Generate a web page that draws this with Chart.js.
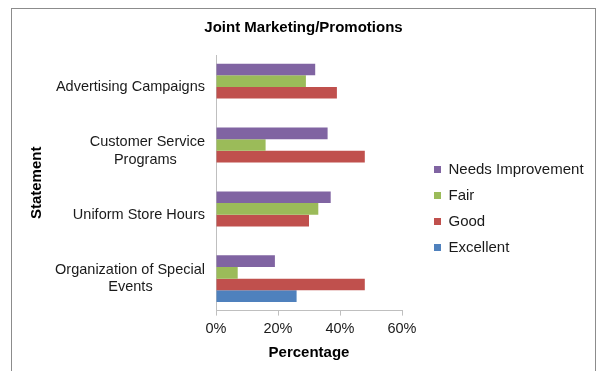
<!DOCTYPE html>
<html>
<head>
<meta charset="utf-8">
<script src="https://cdn.jsdelivr.net/npm/chart.js@4.4.1/dist/chart.umd.min.js"></script>
<style>
  html, body { margin: 0; padding: 0; background: #fff; }
  #frame {
    position: absolute; left: 11px; top: 8px;
    width: 583px; height: 380px;
    border: 1px solid #8c8c8c;
  }
  #wrap { position: absolute; left: 0; top: 0; width: 583px; height: 363px; }
</style>
</head>
<body>
<div id="frame">
  <div id="wrap"><canvas id="chart"></canvas></div>
</div>
<script>
const categories = [
  "Advertising Campaigns",
  ["Customer Service", "Programs"],
  "Uniform Store Hours",
  ["Organization of Special", "Events"]
];
const needsImprovement = [32, 36, 37, 19];
const fair = [29, 16, 33, 7];
const good = [39, 48, 30, 48];
const excellent = [0, 0, 0, 26];
const xTicks = [0, 20, 40, 60];

const font = "'Liberation Sans', Arial, sans-serif";
Chart.defaults.font.family = font;
Chart.defaults.color = "#1a1a1a";

const tickSize = 14.5;

// the plot box in canvas pixels, and where the legend sits
const plotLeft = 204, plotRight = 390;
const legendLeft = 411, legendDrop = 23;

// two-line labels: right-aligned block, lines centred inside it (pad with nbsp)
const measure = document.createElement("canvas").getContext("2d");
measure.font = tickSize + "px " + font;
function centreLines(label) {
  if (!Array.isArray(label)) return label;
  const widths = label.map(s => measure.measureText(s).width);
  const widest = Math.max(...widths);
  const sp = measure.measureText("\u00a0").width;
  return label.map((s, i) => s + "\u00a0".repeat(Math.round((widest - widths[i]) / 2 / sp)));
}

// fixed width for the right legend, then nudge it into place
const legendPlace = {
  id: "legendPlace",
  afterInit(chart) {
    const lg = chart.legend;
    const fit = lg.fit.bind(lg);
    lg.fit = function () {
      fit();
      this.width = chart.width - plotRight;
    };
  },
  afterLayout(chart) {
    const lg = chart.legend;
    const w = lg.right - lg.left;
    lg.left = legendLeft;
    lg.right = legendLeft + w;
    lg.top += legendDrop;
    lg.bottom += legendDrop;
  }
};

new Chart(document.getElementById("chart"), {
  type: "bar",
  data: {
    labels: categories,
    datasets: [
      { label: "Needs Improvement", data: needsImprovement, backgroundColor: "#8064A2" },
      { label: "Fair", data: fair, backgroundColor: "#9BBB59" },
      { label: "Good", data: good, backgroundColor: "#C0504D" },
      { label: "Excellent", data: excellent, backgroundColor: "#4F81BD" }
    ]
  },
  plugins: [legendPlace],
  options: {
    indexAxis: "y",
    responsive: true,
    maintainAspectRatio: false,
    animation: false,
    datasets: { bar: { categoryPercentage: 0.73, barPercentage: 1.0 } },
    layout: { padding: { left: 0, right: 0, top: 0, bottom: 10 } },
    plugins: {
      title: {
        display: true,
        text: "Joint Marketing/Promotions",
        font: { size: 15, weight: "bold" },
        color: "#000",
        padding: { top: 10, bottom: 18 }
      },
      legend: {
        position: "right",
        maxWidth: 300,
        labels: {
          boxWidth: 7,
          boxHeight: 7,
          padding: 11,
          font: { size: 15 },
          color: "#1a1a1a"
        }
      },
      tooltip: { enabled: false }
    },
    scales: {
      x: {
        min: 0,
        max: 60,
        afterBuildTicks: axis => { axis.ticks = xTicks.map(v => ({ value: v })); },
        ticks: { callback: v => v + "%", font: { size: tickSize }, padding: 5 },
        grid: { drawOnChartArea: false, tickLength: 5, color: "#bfbfbf" },
        border: { color: "#bfbfbf" },
        title: {
          display: true, text: "Percentage",
          font: { size: 15, weight: "bold" }, color: "#000",
          padding: { top: 1, bottom: 0 }
        }
      },
      y: {
        afterFit: scale => { scale.width = plotLeft; },
        ticks: {
          font: { size: tickSize },
          padding: 11,
          callback: function (v) { return centreLines(this.getLabelForValue(v)); }
        },
        grid: { display: false, drawTicks: false },
        border: { color: "#bfbfbf" },
        title: {
          display: true, text: "Statement",
          font: { size: 15, weight: "bold" }, color: "#000",
          padding: { top: 16, bottom: 0 }
        }
      }
    }
  }
});
</script>
</body>
</html>
